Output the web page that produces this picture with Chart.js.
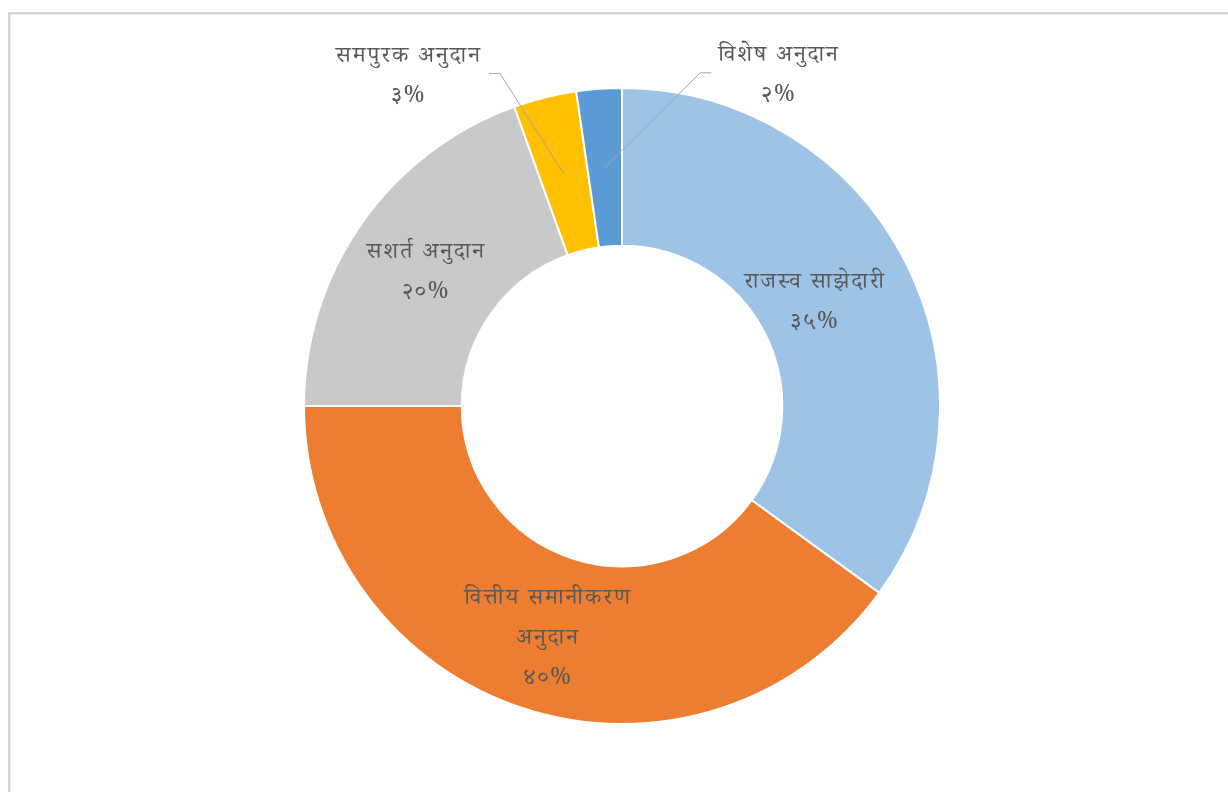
<!DOCTYPE html>
<html>
<head>
<meta charset="utf-8">
<script src="https://cdn.jsdelivr.net/npm/chart.js@4.4.0/dist/chart.umd.min.js"></script>
<style>
  html, body { margin: 0; padding: 0; background: #fff; }
  #frame {
    position: absolute; left: 8px; top: 12px; right: -4px; bottom: -4px;
    border-left: 2px solid #d4d4d4; border-top: 2px solid #d4d4d4;
    box-shadow: inset 1px 1px 0 #ececec;
  }
  #chart { position: absolute; left: 0; top: 0; }
</style>
</head>
<body>
<div id="frame"></div>
<canvas id="chart" width="1228" height="792"></canvas>
<script>
// === DATA ===
const categories = ["राजस्व साझेदारी", "वित्तीय समानीकरण अनुदान", "सशर्त अनुदान", "समपुरक अनुदान", "विशेष अनुदान"];
const shares = [35, 40, 19.5, 3.2, 2.3];
// how each category name is broken over lines in the label
const nameLines = [
  ["राजस्व साझेदारी"],
  ["वित्तीय समानीकरण", "अनुदान"],
  ["सशर्त अनुदान"],
  ["समपुरक अनुदान"],
  ["विशेष अनुदान"]
];
const sliceColors = ["#9dc3e6", "#ed7d31", "#c9c9c9", "#ffc000", "#5b9bd5"];

// label placement: null = inside the ring, otherwise offset from the slice's outer edge
const outsideOffset = [null, null, null, [-136, -18], [180, -10]];
const insideShift = [[-20, 8], [0, 8], [0, 7], [0, 0], [0, 0]];

const devaDigits = "०१२३४५६७८९";
function toDeva(n) {
  return String(n).replace(/[0-9]/g, d => devaDigits[d]);
}

const labelFont = "23px 'Noto Serif Devanagari', 'Noto Sans Devanagari', 'Lohit Devanagari', serif";
const lineGap = 40;

// === SLICE LABELS + LEADER LINES ===
const sliceLabels = {
  id: "sliceLabels",
  afterDatasetsDraw(chart) {
    const ctx = chart.ctx;
    const meta = chart.getDatasetMeta(0);
    const total = shares.reduce((a, b) => a + b, 0);
    ctx.save();
    ctx.font = labelFont;
    ctx.letterSpacing = "2px";
    ctx.textAlign = "center";
    ctx.textBaseline = "middle";
    meta.data.forEach((arc, i) => {
      const lines = nameLines[i].concat([toDeva(Math.round(shares[i] / total * 100)) + "%"]);
      const mid = arc.tooltipPosition();
      let cx, cy;
      if (outsideOffset[i]) {
        const a = (arc.startAngle + arc.endAngle) / 2;
        cx = arc.x + Math.cos(a) * arc.outerRadius + outsideOffset[i][0];
        cy = arc.y + Math.sin(a) * arc.outerRadius + outsideOffset[i][1];
        // leader line from slice middle to label edge
        const w = Math.max(...lines.map(l => ctx.measureText(l).width));
        const side = cx < mid.x ? 1 : -1;
        const edgeX = cx + side * (w / 2 + 7);
        const elbowX = edgeX + side * 11;
        ctx.strokeStyle = "#a6a6a6";
        ctx.lineWidth = 1;
        ctx.beginPath();
        ctx.moveTo(mid.x, mid.y);
        ctx.lineTo(elbowX, cy - 6);
        ctx.lineTo(edgeX, cy - 6);
        ctx.stroke();
      } else {
        cx = mid.x + insideShift[i][0];
        cy = mid.y + insideShift[i][1];
      }
      ctx.fillStyle = "#595959";
      const top = cy - (lines.length - 1) * lineGap / 2;
      lines.forEach((l, k) => ctx.fillText(l, cx, top + k * lineGap));
    });
    ctx.restore();
  }
};

new Chart(document.getElementById("chart"), {
  type: "doughnut",
  data: {
    labels: categories,
    datasets: [{
      data: shares,
      backgroundColor: sliceColors,
      borderColor: "#ffffff",
      borderWidth: 2
    }]
  },
  options: {
    responsive: false,
    animation: false,
    cutout: "50.4%",
    layout: { padding: { top: 87, bottom: 67, left: 16, right: 0 } },
    plugins: {
      legend: { display: false },
      tooltip: { enabled: false }
    }
  },
  plugins: [sliceLabels]
});
</script>
</body>
</html>
